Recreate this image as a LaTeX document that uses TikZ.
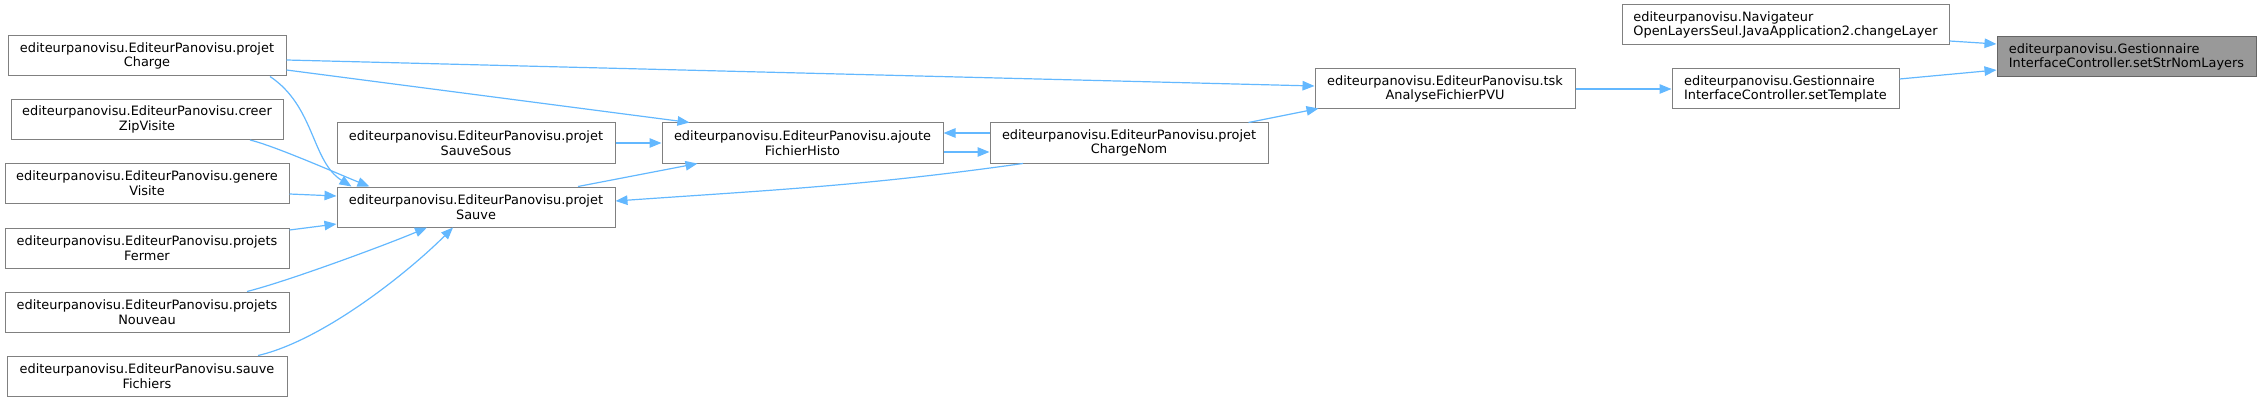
\documentclass[tikz,border=0pt]{standalone}
\usepackage{fontspec}
\setmainfont{DejaVu Sans}
\usetikzlibrary{arrows.meta,calc}
\definecolor{callblue}{HTML}{63B8FF}
\definecolor{boxline}{HTML}{808080}
\definecolor{hlfill}{HTML}{999999}
\definecolor{hlline}{HTML}{666666}
\tikzset{
  fn/.style={draw=boxline, fill=white, line width=1pt, minimum height=40pt, inner sep=0pt,
    align=center, font=\fontsize{12.9}{14.7}\selectfont},
  fnleft/.style={fn, align=left},
  fnself/.style={fnleft, fill=hlfill, draw=hlline},
  call/.style={-{Triangle[length=12pt, width=9.5pt]}, callblue, line width=1.2pt},
}
\begin{document}
\begin{tikzpicture}[x=1pt, y=-1pt]
  \useasboundingbox (0,0) rectangle (2261,401);
  % left column of callers
  \node[fn, minimum width=278pt] (pc)    at (147,56)    {editeurpanovisu.EditeurPanovisu.projet\\Charge};
  \node[fn, minimum width=272pt] (zip)   at (147,119.5) {editeurpanovisu.EditeurPanovisu.creer\\ZipVisite};
  \node[fn, minimum width=284pt] (gen)   at (147,183.5) {editeurpanovisu.EditeurPanovisu.genere\\Visite};
  \node[fn, minimum width=284pt] (ferm)  at (147,248)   {editeurpanovisu.EditeurPanovisu.projets\\Fermer};
  \node[fn, minimum width=284pt] (nouv)  at (147,312)   {editeurpanovisu.EditeurPanovisu.projets\\Nouveau};
  \node[fn, minimum width=280pt] (sfich) at (147,376)   {editeurpanovisu.EditeurPanovisu.sauve\\Fichiers};
  % middle
  \node[fn, minimum width=278pt] (ssous) at (476,143)   {editeurpanovisu.EditeurPanovisu.projet\\SauveSous};
  \node[fn, minimum width=278pt] (sauve) at (476,207)   {editeurpanovisu.EditeurPanovisu.projet\\Sauve};
  \node[fn, minimum width=281pt] (ajout) at (802.5,143) {editeurpanovisu.EditeurPanovisu.ajoute\\FichierHisto};
  \node[fn, minimum width=278pt] (cnom)  at (1129,143)  {editeurpanovisu.EditeurPanovisu.projet\\ChargeNom};
  \node[fn, minimum width=260pt] (tsk)   at (1445,89)   {editeurpanovisu.EditeurPanovisu.tsk\\AnalyseFichierPVU};
  % right side
  \node[fnleft, minimum width=327pt] (chg) at (1785.5,25) {editeurpanovisu.Navigateur\\OpenLayersSeul.JavaApplication2.changeLayer};
  \node[fnleft, minimum width=227pt] (tpl) at (1785.5,89) {editeurpanovisu.Gestionnaire\\InterfaceController.setTemplate};
  \node[fnself, minimum width=259pt] (str) at (2126.5,57) {editeurpanovisu.Gestionnaire\\InterfaceController.setStrNomLayers};

  % calls
  \draw[call] ($(chg.east)+(0,16)$) -- ($(str.west)+(0,-13)$);
  \draw[call] ($(tpl.east)+(0,-10)$) -- ($(str.west)+(0,13)$);
  \draw[call] (tsk.east) -- (tpl.west);
  \draw[call] ($(pc.east)+(0,4)$) -- ($(tsk.west)+(0,-3)$);
  \draw[call] ($(cnom.north east)+(-20,0)$) -- ($(tsk.south west)+(4,-1)$);
  \draw[call] ($(ajout.east)+(0,9)$) -- ($(cnom.west)+(0,9)$);
  \draw[call] ($(cnom.west)+(0,-10)$) -- ($(ajout.east)+(0,-10)$);
  \draw[call] ($(pc.east)+(0,14)$) -- ($(ajout.north west)+(28,0)$);
  \draw[call] (ssous.east) -- (ajout.west);
  \draw[call] ($(sauve.north)+(102,0)$) -- ($(ajout.south)+(-105,0)$);
  \draw[call] ($(cnom.south)+(-106,0)$) to[out=188, in=4] ($(sauve.east)+(0,-6)$);
  \draw[call] ($(pc.south)+(123,0)$) .. controls +(45,30) and +(-40,-25) .. ($(sauve.north west)+(15,0)$);
  \draw[call] ($(zip.south)+(103,0)$) .. controls +(25,6) and +(-30,-12) .. ($(sauve.north west)+(33,0)$);
  \draw[call] ($(gen.east)+(0,10.5)$) -- ($(sauve.west)+(0,-11)$);
  \draw[call] ($(ferm.east)+(0,-18)$) -- ($(sauve.west)+(0,17)$);
  \draw[call] ($(nouv.north)+(100,0)$) .. controls +(40,-10) and +(-40,17) .. ($(sauve.south)+(-49,0)$);
  \draw[call] ($(sfich.north)+(111,0)$) .. controls +(65,-15) and +(-45,45) .. ($(sauve.south)+(-23,0)$);
\end{tikzpicture}
\end{document}
